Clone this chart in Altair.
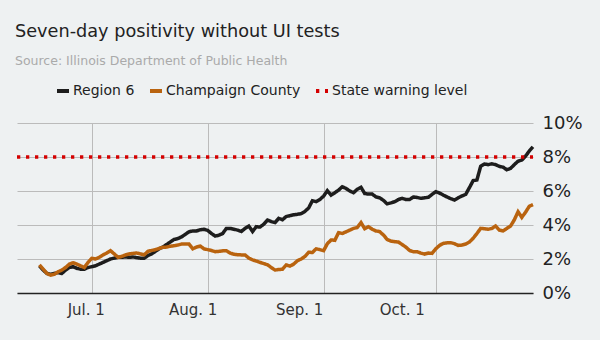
import altair as alt
import pandas as pd

start_date = "2020-06-17"
domain_start = "2020-06-11"
domain_end = "2020-10-27"

region6 = [1.6, 1.35, 1.15, 1.1, 1.15, 1.2, 1.15, 1.35, 1.5, 1.55,
           1.45, 1.4, 1.4, 1.5, 1.55, 1.6, 1.7, 1.8, 1.9, 2.0,
           2.05, 2.1, 2.1, 2.12, 2.1, 2.12, 2.08, 2.05, 2.04, 2.2,
           2.3, 2.45, 2.6, 2.7, 2.85, 3.0, 3.15, 3.2, 3.3, 3.45,
           3.6, 3.65, 3.65, 3.72, 3.75, 3.68, 3.5, 3.35, 3.4, 3.5,
           3.8, 3.8, 3.75, 3.7, 3.62, 3.8, 3.94, 3.62, 3.9, 3.88,
           4.05, 4.29, 4.2, 4.14, 4.39, 4.31, 4.5, 4.55, 4.6, 4.63,
           4.67, 4.8, 5.0, 5.43, 5.37, 5.5, 5.7, 6.02, 5.76, 5.9,
           6.05, 6.25, 6.15, 6.0, 5.9, 6.1, 6.22, 5.85, 5.82, 5.82,
           5.65, 5.6, 5.45, 5.24, 5.3, 5.37, 5.5, 5.57, 5.5, 5.5,
           5.65, 5.62, 5.57, 5.6, 5.63, 5.8, 5.96, 5.88, 5.76, 5.65,
           5.55, 5.47, 5.6, 5.71, 5.8, 6.2, 6.61, 6.65, 7.45, 7.59,
           7.55, 7.6, 7.55, 7.45, 7.4, 7.25, 7.33, 7.55, 7.75, 7.82,
           8.05, 8.35, 8.6]

champaign = [1.65, 1.4, 1.15, 1.05, 1.1, 1.25, 1.35, 1.5, 1.7, 1.78,
             1.7, 1.6, 1.5, 1.8, 2.04, 2.0, 2.1, 2.24, 2.35, 2.49,
             2.3, 2.1, 2.15, 2.24, 2.3, 2.33, 2.35, 2.3, 2.24, 2.45,
             2.5, 2.55, 2.62, 2.69, 2.7, 2.75, 2.78, 2.82, 2.88, 2.88,
             2.88, 2.6, 2.7, 2.76, 2.6, 2.55, 2.5, 2.43, 2.45, 2.48,
             2.49, 2.35, 2.28, 2.25, 2.24, 2.24, 2.05, 1.95, 1.88, 1.8,
             1.73, 1.66, 1.5, 1.35, 1.38, 1.4, 1.65, 1.58, 1.7, 1.9,
             2.0, 2.15, 2.4, 2.38, 2.6, 2.55, 2.49, 2.9, 3.12, 3.1,
             3.55, 3.5, 3.6, 3.7, 3.8, 3.85, 4.14, 3.78, 3.9, 3.75,
             3.65, 3.61, 3.41, 3.15, 3.05, 3.02, 3.0, 2.85, 2.7, 2.5,
             2.43, 2.43, 2.35, 2.29, 2.35, 2.33, 2.6, 2.8, 2.92, 2.95,
             2.96, 2.9, 2.8, 2.82, 2.88, 3.0, 3.22, 3.5, 3.8, 3.78,
             3.75, 3.8, 3.94, 3.7, 3.65, 3.8, 3.94, 4.3, 4.78, 4.45,
             4.75, 5.1, 5.2]

warning_level = 8
series_names = ["Region 6", "Champaign County", "State warning level"]
series_colors = ["#1d1d1d", "#b9630f", "#d40000"]
series_dash = [[1, 0], [1, 0], [3.3, 5.7]]

y_ticks = [0, 2, 4, 6, 8, 10]
x_tick_months = [7, 8, 9, 10]

dates = pd.date_range(start_date, periods=len(region6), freq="D").strftime("%Y-%m-%d")
rows = []
for d, v in zip(dates, region6):
    rows.append({"date": d, "value": v, "series": series_names[0]})
for d, v in zip(dates, champaign):
    rows.append({"date": d, "value": v, "series": series_names[1]})
for d in [domain_start, domain_end]:
    rows.append({"date": d, "value": warning_level, "series": series_names[2]})
df = pd.DataFrame(rows)

FONT = "DejaVu Sans"

label_offset = {
    "condition": [
        {"test": "month(datum.value)==6", "value": -6},
        {"test": "month(datum.value)==7", "value": -15},
        {"test": "month(datum.value)==8", "value": -24.5},
        {"test": "month(datum.value)==9", "value": -34},
    ],
    "value": 0,
}

legend_props = dict(
    title=None,
    orient="none",
    direction="horizontal",
    legendX=38,
    legendY=-40,
    symbolType="stroke",
    symbolSize=144,
    symbolStrokeWidth=4,
    labelFont=FONT,
    labelFontSize=14,
    labelColor="#222222",
    labelOffset=2,
    columnPadding=7,
    padding=0,
)

chart = alt.Chart(df).mark_line(strokeWidth=3.5, strokeCap="butt", strokeJoin="miter").encode(
    x=alt.X(
        "date:T",
        title=None,
        scale=alt.Scale(domain=[domain_start, domain_end], nice=False),
        axis=alt.Axis(
            values=[alt.DateTime(year=2020, month=m, date=1) for m in x_tick_months],
            format="%b. %-d",
            grid=True,
            gridColor="#bbbbbb",
            gridWidth=1,
            ticks=False,
            domain=True,
            domainColor="#222222",
            domainWidth=1.5,
            labelFont=FONT,
            labelFontSize=15,
            labelColor="#333333",
            labelPadding=9,
            labelOffset=label_offset,
            labelOverlap=False,
            labelBound=False,
            labelFlush=False,
        ),
    ),
    y=alt.Y(
        "value:Q",
        title=None,
        scale=alt.Scale(domain=[0, 10], nice=False),
        axis=alt.Axis(
            orient="right",
            values=y_ticks,
            labelExpr="datum.value + '%'",
            grid=True,
            gridColor="#bbbbbb",
            gridWidth=1,
            ticks=False,
            domain=False,
            labelFont=FONT,
            labelFontSize=18,
            labelColor="#222222",
            labelPadding=9,
            labelBaseline="middle",
        ),
    ),
    color=alt.Color(
        "series:N",
        scale=alt.Scale(domain=series_names, range=series_colors),
        legend=alt.Legend(**legend_props),
    ),
    strokeDash=alt.StrokeDash(
        "series:N",
        scale=alt.Scale(domain=series_names, range=series_dash),
        legend=alt.Legend(**legend_props),
    ),
    order=alt.Order("date:T"),
).properties(
    width=516,
    height=170,
    title=alt.TitleParams(
        text="Seven-day positivity without UI tests",
        subtitle="Source: Illinois Department of Public Health",
        anchor="start",
        frame="group",
        font=FONT,
        fontSize=17.7,
        fontWeight="normal",
        color="#222222",
        subtitleFont=FONT,
        subtitleFontSize=12.5,
        subtitleColor="#aaaaaa",
        subtitlePadding=14,
        offset=16,
        dx=-2,
    ),
    autosize=alt.AutoSizeParams(type="none"),
    padding={"left": 17, "top": 123, "right": 67, "bottom": 47},
    background="#eef1f2",
).configure_view(stroke=None)

chart.save("out.html", embed_options={"renderer": "svg", "actions": False})
